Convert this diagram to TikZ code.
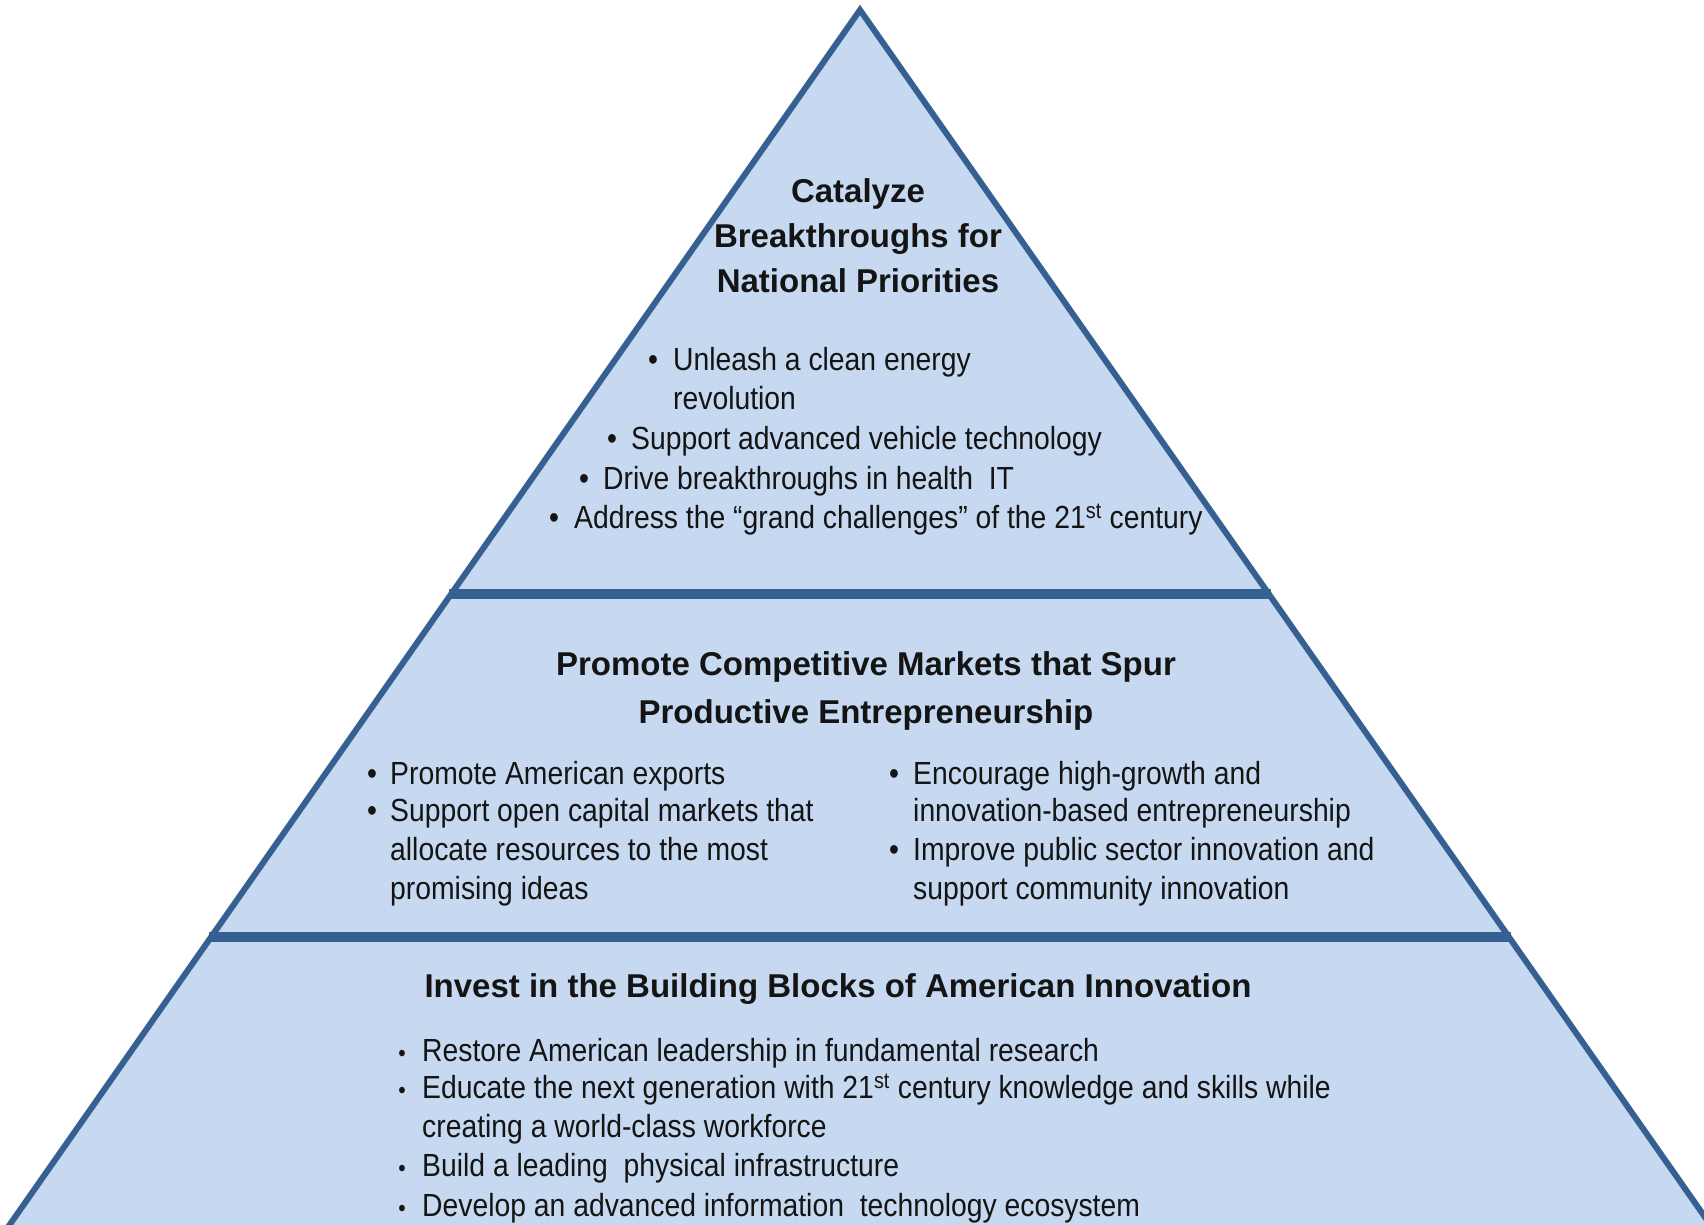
\documentclass[tikz,border=0pt]{standalone}
\usepackage{fontspec}
\setmainfont{Liberation Sans}
\newfontfamily\bodyfont[FakeStretch=0.885]{Liberation Sans}
\definecolor{pyrfill}{HTML}{C6D9F0}
\definecolor{pyrline}{HTML}{366092}
\definecolor{txt}{HTML}{141414}
\begin{document}
\begin{tikzpicture}[x=1pt,y=-1pt,
  head/.style={font=\fontsize{33}{44}\selectfont\bfseries, text=txt, inner sep=0, anchor=base},
  body/.style={font=\bodyfont\fontsize{32}{38}\selectfont, text=txt, inner sep=0, anchor=base west},
  dot/.style={font=\bodyfont\fontsize{32}{38}\selectfont, text=txt, inner sep=0, anchor=base},
  smalldot/.style={font=\bodyfont\fontsize{24}{38}\selectfont, text=txt, inner sep=0, anchor=base},
  edge/.style={draw=pyrline, line width=6pt, line join=miter},
  divider/.style={draw=pyrline, line width=10pt}]
\useasboundingbox (0,0) rectangle (1704,1225);
\clip (0,0) rectangle (1704,1225);
% pyramid
\coordinate (apex) at (860,10);
\coordinate (bl) at (-50,1310);
\coordinate (br) at (1770,1310);
\coordinate (d1l) at (449,594);
\coordinate (d1r) at (1271,594);
\coordinate (d2l) at (209,937);
\coordinate (d2r) at (1511,937);
\fill[pyrfill] (bl) -- (apex) -- (br) -- cycle;
\draw[divider] (d1l) -- (d1r);
\draw[divider] (d2l) -- (d2r);
\draw[edge] (bl) -- (apex) -- (br);
% top tier
\node[head] (h1a) at (858,202) {Catalyze};
\node[head] (h1b) at (858,247) {Breakthroughs for};
\node[head] (h1c) at (858,292) {National Priorities};
\node[dot] (t1b) at (653,370) {•};
\node[body] (t1) at (673,370) {Unleash a clean energy};
\node[body] (t1x) at (673,409) {revolution};
\node[dot] (t2b) at (612,449) {•};
\node[body] (t2) at (631,449) {Support advanced vehicle technology};
\node[dot] (t3b) at (584,489) {•};
\node[body] (t3) at (603,489) {Drive breakthroughs in health\ \ IT};
\node[dot] (t4b) at (554,528) {•};
\node[body] (t4) at (574,528) {Address the “grand challenges” of the 21\textsuperscript{st} century};
% middle tier
\node[head] (h2a) at (866,675) {Promote Competitive Markets that Spur};
\node[head] (h2b) at (866,723) {Productive Entrepreneurship};
\node[dot] (m1b) at (372,784) {•};
\node[body] (m1) at (390,784) {Promote American exports};
\node[dot] (m2b) at (372,821) {•};
\node[body] (m2) at (390,821) {Support open capital markets that};
\node[body] (m2x) at (390,860) {allocate resources to the most};
\node[body] (m2y) at (390,899) {promising ideas};
\node[dot] (m3b) at (894,784) {•};
\node[body] (m3) at (913,784) {Encourage high-growth and};
\node[body] (m3x) at (913,821) {innovation-based entrepreneurship};
\node[dot] (m4b) at (894,860) {•};
\node[body] (m4) at (913,860) {Improve public sector innovation and};
\node[body] (m4x) at (913,899) {support community innovation};
% bottom tier
\node[head] (h3) at (838,997) {Invest in the Building Blocks of American Innovation};
\node[smalldot] (b1b) at (402,1061) {•};
\node[body] (b1) at (422,1061) {Restore American leadership in fundamental research};
\node[smalldot] (b2b) at (402,1098) {•};
\node[body] (b2) at (422,1098) {Educate the next generation with 21\textsuperscript{st} century knowledge and skills while};
\node[body] (b2x) at (422,1137) {creating a world-class workforce};
\node[smalldot] (b3b) at (402,1176) {•};
\node[body] (b3) at (422,1176) {Build a leading\ \ physical infrastructure};
\node[smalldot] (b4b) at (402,1216) {•};
\node[body] (b4) at (422,1216) {Develop an advanced information\ \ technology ecosystem};
\end{tikzpicture}
\end{document}
